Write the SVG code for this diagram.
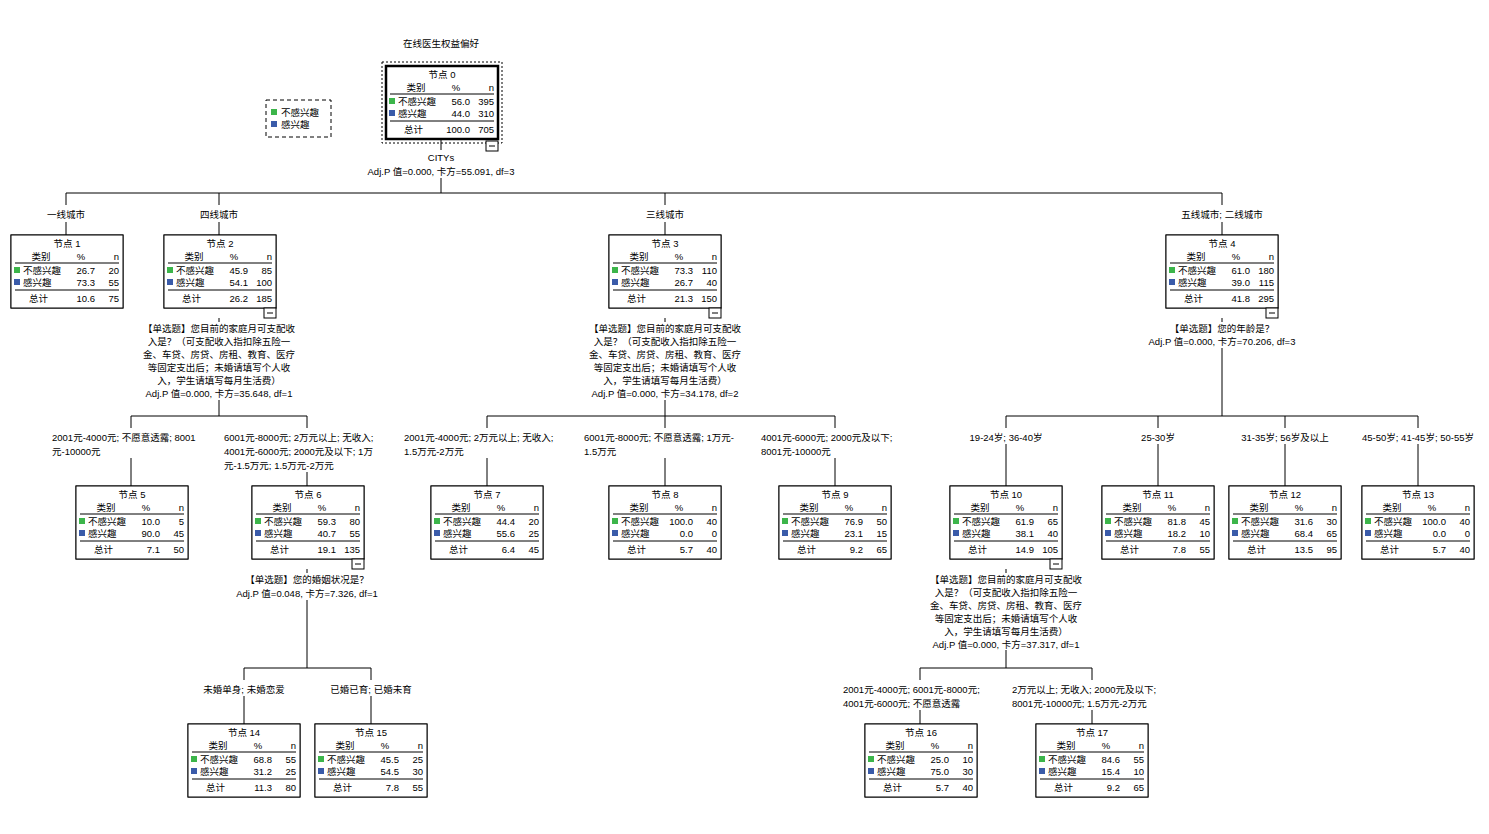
<svg xmlns="http://www.w3.org/2000/svg" width="1489" height="834" viewBox="0 0 1489 834">
<style>
text{font-family:"Liberation Sans","Noto Sans CJK SC",sans-serif;font-size:9.5px;fill:#000}
.m{text-anchor:middle}.e{text-anchor:end}
.box{fill:#fff;stroke:#000;stroke-width:1}
.ln{stroke:#000;stroke-width:1;fill:none}
.hl{fill:#e6e6e6}
.g{fill:#3cb54a}.b{fill:#3a5ba9}
</style>
<defs>
<g id="frame">
<rect class="box" x="0" y="0" width="112" height="73"/>
<text class="m" x="30" y="25">类别</text><text class="m" x="70" y="25">%</text><text class="e" x="108" y="25">n</text>
<line class="ln" x1="4" y1="28" x2="108" y2="28"/>
<rect class="g" x="3" y="32" width="6" height="6"/><rect class="b" x="3" y="44" width="6" height="6"/>
<line class="ln" x1="4" y1="55" x2="108" y2="55"/>
<text x="18" y="67">总计</text>
<text x="12" y="39">不感兴趣</text><text x="12" y="51">感兴趣</text>
</g>
<g id="f1"><rect class="box" x="0" y="0" width="112" height="73"/><rect class="hl" x="11" y="30" width="98" height="11"/><use href="#frame"/></g>
<g id="f2"><rect class="box" x="0" y="0" width="112" height="73"/><rect class="hl" x="11" y="42" width="98" height="11"/><use href="#frame"/></g>
<g id="minus"><rect class="box" x="100" y="73" width="12" height="10"/><line class="ln" x1="103" y1="78" x2="109" y2="78"/></g>
</defs>
<rect width="1489" height="834" fill="#fff"/>
<text class="m" x="441" y="47">在线医生权益偏好</text>
<g id="legend">
<rect x="266" y="100" width="65" height="37" fill="none" stroke="#000" stroke-dasharray="4,3"/>
<rect class="g" x="271" y="109" width="6" height="6"/><text x="281" y="116">不感兴趣</text>
<rect class="b" x="271" y="121" width="6" height="6"/><text x="281" y="128">感兴趣</text>
</g>
<g id="connectors">
<path class="ln" d="M441,140V150M441,178V193M66,193H1222M66,193V205M66,222V235M219,193V205M219,222V235M665,193V205M665,222V235M1222,193V205M1222,222V235"/>
<path class="ln" d="M219,318V322M219,400V416M131,416H307M131,416V428M131,458V486M307,416V428M307,472V486"/>
<path class="ln" d="M665,318V322M665,400V416M487,416H835M487,416V428M487,458V486M665,416V428M665,458V486M835,416V428M835,458V486"/>
<path class="ln" d="M1222,318V322M1222,348V416M1006,416H1418M1006,416V428M1006,444V486M1158,416V428M1158,444V486M1285,416V428M1285,444V486M1418,416V428M1418,444V486"/>
<path class="ln" d="M307,569V573M307,600V668M244,668H371M244,668V680M244,696V724M371,668V680M371,696V724"/>
<path class="ln" d="M1006,569V573M1006,650V668M920,668H1092M920,668V680M920,710V724M1092,668V680M1092,710V724"/>
</g>
<text class="m" x="441" y="161">CITYs</text>
<text class="m" x="441" y="175">Adj.P 值=0.000, 卡方=55.091, df=3</text>
<text class="m" x="66" y="218">一线城市</text><text class="m" x="219" y="218">四线城市</text><text class="m" x="665" y="218">三线城市</text><text class="m" x="1222" y="218">五线城市; 二线城市</text>
<text class="m" x="219" y="332">【单选题】您目前的家庭月可支配收</text><text class="m" x="219" y="345">入是？（可支配收入指扣除五险一</text><text class="m" x="219" y="358">金、车贷、房贷、房租、教育、医疗</text><text class="m" x="219" y="371">等固定支出后；未婚请填写个人收</text><text class="m" x="219" y="384">入，学生请填写每月生活费）</text><text class="m" x="219" y="397">Adj.P 值=0.000, 卡方=35.648, df=1</text>
<text class="m" x="665" y="332">【单选题】您目前的家庭月可支配收</text><text class="m" x="665" y="345">入是？（可支配收入指扣除五险一</text><text class="m" x="665" y="358">金、车贷、房贷、房租、教育、医疗</text><text class="m" x="665" y="371">等固定支出后；未婚请填写个人收</text><text class="m" x="665" y="384">入，学生请填写每月生活费）</text><text class="m" x="665" y="397">Adj.P 值=0.000, 卡方=34.178, df=2</text>
<text class="m" x="1222" y="332">【单选题】您的年龄是？</text><text class="m" x="1222" y="345">Adj.P 值=0.000, 卡方=70.206, df=3</text>
<text class="m" x="307" y="583">【单选题】您的婚姻状况是？</text><text class="m" x="307" y="597">Adj.P 值=0.048, 卡方=7.326, df=1</text>
<text class="m" x="1006" y="583">【单选题】您目前的家庭月可支配收</text><text class="m" x="1006" y="596">入是？（可支配收入指扣除五险一</text><text class="m" x="1006" y="609">金、车贷、房贷、房租、教育、医疗</text><text class="m" x="1006" y="622">等固定支出后；未婚请填写个人收</text><text class="m" x="1006" y="635">入，学生请填写每月生活费）</text><text class="m" x="1006" y="648">Adj.P 值=0.000, 卡方=37.317, df=1</text>
<text x="52" y="441">2001元-4000元; 不愿意透露; 8001</text><text x="52" y="455">元-10000元</text>
<text x="224" y="441">6001元-8000元; 2万元以上; 无收入;</text><text x="224" y="455">4001元-6000元; 2000元及以下; 1万</text><text x="224" y="469">元-1.5万元; 1.5万元-2万元</text>
<text x="404" y="441">2001元-4000元; 2万元以上; 无收入;</text><text x="404" y="455">1.5万元-2万元</text>
<text x="584" y="441">6001元-8000元; 不愿意透露; 1万元-</text><text x="584" y="455">1.5万元</text>
<text x="761" y="441">4001元-6000元; 2000元及以下;</text><text x="761" y="455">8001元-10000元</text>
<text class="m" x="1006" y="441">19-24岁; 36-40岁</text><text class="m" x="1158" y="441">25-30岁</text><text class="m" x="1285" y="441">31-35岁; 56岁及以上</text><text class="m" x="1418" y="441">45-50岁; 41-45岁; 50-55岁</text>
<text class="m" x="244" y="693">未婚单身; 未婚恋爱</text><text class="m" x="371" y="693">已婚已育; 已婚未育</text>
<text x="843" y="693">2001元-4000元; 6001元-8000元;</text><text x="843" y="707">4001元-6000元; 不愿意透露</text>
<text x="1012" y="693">2万元以上; 无收入; 2000元及以下;</text><text x="1012" y="707">8001元-10000元; 1.5万元-2万元</text>

<g id="node0" transform="translate(386,66)">
<rect x="-4" y="-4" width="120" height="81" fill="none" stroke="#000" stroke-dasharray="2,2"/>
<use href="#f1"/><rect x="0" y="0" width="112" height="73" fill="none" stroke="#000" stroke-width="2.5"/>
<text class="m" x="56" y="12">节点 0</text>
<text class="e" x="84" y="39">56.0</text><text class="e" x="108" y="39">395</text><text class="e" x="84" y="51">44.0</text><text class="e" x="108" y="51">310</text><text class="e" x="84" y="67">100.0</text><text class="e" x="108" y="67">705</text>
<rect class="box" x="100" y="75" width="12" height="10"/><line class="ln" x1="103" y1="80" x2="109" y2="80"/>
</g>
<g id="node1" transform="translate(11,235)"><use href="#f2"/><text class="m" x="56" y="12">节点 1</text><text class="e" x="84" y="39">26.7</text><text class="e" x="108" y="39">20</text><text class="e" x="84" y="51">73.3</text><text class="e" x="108" y="51">55</text><text class="e" x="84" y="67">10.6</text><text class="e" x="108" y="67">75</text></g>
<g id="node2" transform="translate(164,235)"><use href="#f2"/><use href="#minus"/><text class="m" x="56" y="12">节点 2</text><text class="e" x="84" y="39">45.9</text><text class="e" x="108" y="39">85</text><text class="e" x="84" y="51">54.1</text><text class="e" x="108" y="51">100</text><text class="e" x="84" y="67">26.2</text><text class="e" x="108" y="67">185</text></g>
<g id="node3" transform="translate(609,235)"><use href="#f1"/><use href="#minus"/><text class="m" x="56" y="12">节点 3</text><text class="e" x="84" y="39">73.3</text><text class="e" x="108" y="39">110</text><text class="e" x="84" y="51">26.7</text><text class="e" x="108" y="51">40</text><text class="e" x="84" y="67">21.3</text><text class="e" x="108" y="67">150</text></g>
<g id="node4" transform="translate(1166,235)"><use href="#f1"/><use href="#minus"/><text class="m" x="56" y="12">节点 4</text><text class="e" x="84" y="39">61.0</text><text class="e" x="108" y="39">180</text><text class="e" x="84" y="51">39.0</text><text class="e" x="108" y="51">115</text><text class="e" x="84" y="67">41.8</text><text class="e" x="108" y="67">295</text></g>
<g id="node5" transform="translate(76,486)"><use href="#f2"/><text class="m" x="56" y="12">节点 5</text><text class="e" x="84" y="39">10.0</text><text class="e" x="108" y="39">5</text><text class="e" x="84" y="51">90.0</text><text class="e" x="108" y="51">45</text><text class="e" x="84" y="67">7.1</text><text class="e" x="108" y="67">50</text></g>
<g id="node6" transform="translate(252,486)"><use href="#f1"/><use href="#minus"/><text class="m" x="56" y="12">节点 6</text><text class="e" x="84" y="39">59.3</text><text class="e" x="108" y="39">80</text><text class="e" x="84" y="51">40.7</text><text class="e" x="108" y="51">55</text><text class="e" x="84" y="67">19.1</text><text class="e" x="108" y="67">135</text></g>
<g id="node7" transform="translate(431,486)"><use href="#f2"/><text class="m" x="56" y="12">节点 7</text><text class="e" x="84" y="39">44.4</text><text class="e" x="108" y="39">20</text><text class="e" x="84" y="51">55.6</text><text class="e" x="108" y="51">25</text><text class="e" x="84" y="67">6.4</text><text class="e" x="108" y="67">45</text></g>
<g id="node8" transform="translate(609,486)"><use href="#f1"/><text class="m" x="56" y="12">节点 8</text><text class="e" x="84" y="39">100.0</text><text class="e" x="108" y="39">40</text><text class="e" x="84" y="51">0.0</text><text class="e" x="108" y="51">0</text><text class="e" x="84" y="67">5.7</text><text class="e" x="108" y="67">40</text></g>
<g id="node9" transform="translate(779,486)"><use href="#f1"/><text class="m" x="56" y="12">节点 9</text><text class="e" x="84" y="39">76.9</text><text class="e" x="108" y="39">50</text><text class="e" x="84" y="51">23.1</text><text class="e" x="108" y="51">15</text><text class="e" x="84" y="67">9.2</text><text class="e" x="108" y="67">65</text></g>
<g id="node10" transform="translate(950,486)"><use href="#f1"/><use href="#minus"/><text class="m" x="56" y="12">节点 10</text><text class="e" x="84" y="39">61.9</text><text class="e" x="108" y="39">65</text><text class="e" x="84" y="51">38.1</text><text class="e" x="108" y="51">40</text><text class="e" x="84" y="67">14.9</text><text class="e" x="108" y="67">105</text></g>
<g id="node11" transform="translate(1102,486)"><use href="#f1"/><text class="m" x="56" y="12">节点 11</text><text class="e" x="84" y="39">81.8</text><text class="e" x="108" y="39">45</text><text class="e" x="84" y="51">18.2</text><text class="e" x="108" y="51">10</text><text class="e" x="84" y="67">7.8</text><text class="e" x="108" y="67">55</text></g>
<g id="node12" transform="translate(1229,486)"><use href="#f2"/><text class="m" x="56" y="12">节点 12</text><text class="e" x="84" y="39">31.6</text><text class="e" x="108" y="39">30</text><text class="e" x="84" y="51">68.4</text><text class="e" x="108" y="51">65</text><text class="e" x="84" y="67">13.5</text><text class="e" x="108" y="67">95</text></g>
<g id="node13" transform="translate(1362,486)"><use href="#f1"/><text class="m" x="56" y="12">节点 13</text><text class="e" x="84" y="39">100.0</text><text class="e" x="108" y="39">40</text><text class="e" x="84" y="51">0.0</text><text class="e" x="108" y="51">0</text><text class="e" x="84" y="67">5.7</text><text class="e" x="108" y="67">40</text></g>
<g id="node14" transform="translate(188,724)"><use href="#f1"/><text class="m" x="56" y="12">节点 14</text><text class="e" x="84" y="39">68.8</text><text class="e" x="108" y="39">55</text><text class="e" x="84" y="51">31.2</text><text class="e" x="108" y="51">25</text><text class="e" x="84" y="67">11.3</text><text class="e" x="108" y="67">80</text></g>
<g id="node15" transform="translate(315,724)"><use href="#f2"/><text class="m" x="56" y="12">节点 15</text><text class="e" x="84" y="39">45.5</text><text class="e" x="108" y="39">25</text><text class="e" x="84" y="51">54.5</text><text class="e" x="108" y="51">30</text><text class="e" x="84" y="67">7.8</text><text class="e" x="108" y="67">55</text></g>
<g id="node16" transform="translate(865,724)"><use href="#f2"/><text class="m" x="56" y="12">节点 16</text><text class="e" x="84" y="39">25.0</text><text class="e" x="108" y="39">10</text><text class="e" x="84" y="51">75.0</text><text class="e" x="108" y="51">30</text><text class="e" x="84" y="67">5.7</text><text class="e" x="108" y="67">40</text></g>
<g id="node17" transform="translate(1036,724)"><use href="#f1"/><text class="m" x="56" y="12">节点 17</text><text class="e" x="84" y="39">84.6</text><text class="e" x="108" y="39">55</text><text class="e" x="84" y="51">15.4</text><text class="e" x="108" y="51">10</text><text class="e" x="84" y="67">9.2</text><text class="e" x="108" y="67">65</text></g>
</svg>
